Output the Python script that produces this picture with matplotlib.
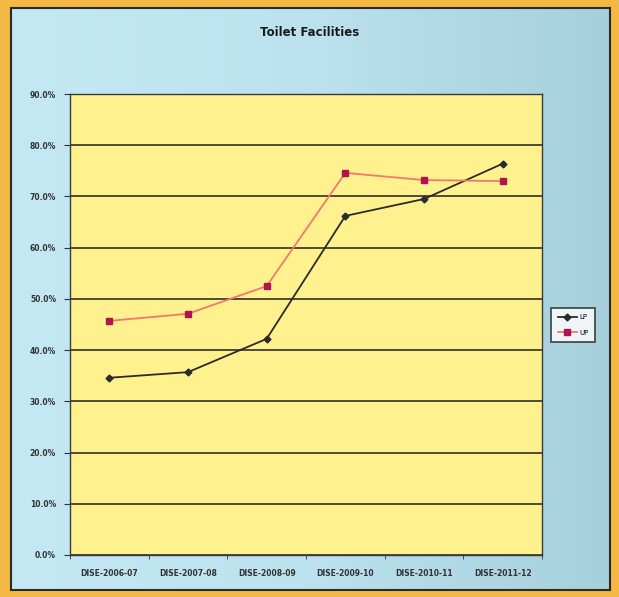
import numpy as np
import matplotlib
matplotlib.use("Agg")
import matplotlib.pyplot as plt

# data
years = ['DISE-2006-07', 'DISE-2007-08', 'DISE-2008-09',
         'DISE-2009-10', 'DISE-2010-11', 'DISE-2011-12']
lp = [34.6, 35.7, 42.2, 66.2, 69.5, 76.4]
up = [45.7, 47.1, 52.5, 74.6, 73.2, 73.0]
yticks = np.arange(0, 91, 10)

fig = plt.figure(figsize=(6.19, 5.97), dpi=100)
fig.patch.set_facecolor('#F4B845')

# light blue chart area with a soft horizontal gradient
bg = fig.add_axes([11/619, 7/597, 599/619, 582/597])
grad = np.linspace(0, 1, 256).reshape(1, -1)
cmap = matplotlib.colors.LinearSegmentedColormap.from_list('bg', ['#C4E9F5', '#BBE2EE', '#A6D0DC'])
bg.imshow(grad, aspect='auto', cmap=cmap, extent=[0, 1, 0, 1])
bg.set_xticks([])
bg.set_yticks([])
for s in bg.spines.values():
    s.set_color('#2a2a2a')
    s.set_linewidth(1.5)

ax = fig.add_axes([70/619, 42/597, 472/619, 461/597])
ax.set_facecolor('#FFF28E')
x = np.arange(len(years))
ax.plot(x, lp, color='#2b2b2b', lw=1.3, marker='D', ms=3.5, label='LP', zorder=3)
ax.plot(x, up, color='#F07A6A', lw=1.3, marker='s', ms=5, mfc='#B0134F', mec='#B0134F',
        label='UP', zorder=3)

ax.set_xlim(-0.5, len(years) - 0.5)
ax.set_ylim(0, 90)
ax.set_yticks(yticks)
ax.set_yticklabels(['%.1f%%' % v for v in yticks], fontsize=5.5, fontweight='bold', color='#333333')
ax.set_xticks(x)
ax.set_xticklabels(years, fontsize=5.5, fontweight='bold', color='#333333')
ax.set_xticks(np.arange(-0.5, len(years)), minor=True)
ax.tick_params(axis='x', which='major', length=0, pad=10)
ax.tick_params(axis='x', which='minor', length=3, direction='out', color='#333333')
ax.tick_params(axis='y', length=4, direction='out', color='#333333', pad=6)
ax.yaxis.grid(True, color='#1e1e1e', lw=1.1)
ax.set_axisbelow(True)
for s in ax.spines.values():
    s.set_color('#3a3a3a')
    s.set_linewidth(1.0)

fig.text(0.5, 1 - 33/597, 'Toilet Facilities', ha='center', va='center',
         fontsize=8.5, fontweight='bold', color='#1a1a1a')

leg = fig.legend(loc='center', bbox_to_anchor=(573/619, 1 - 325/597), fontsize=5,
                 frameon=True, fancybox=False, handlelength=2.8, borderpad=0.9,
                 labelspacing=1.3, handletextpad=0.3, borderaxespad=0)
leg.get_frame().set_edgecolor('#333333')
leg.get_frame().set_linewidth(1.4)

fig.savefig('out.png', dpi=100, facecolor=fig.get_facecolor())
